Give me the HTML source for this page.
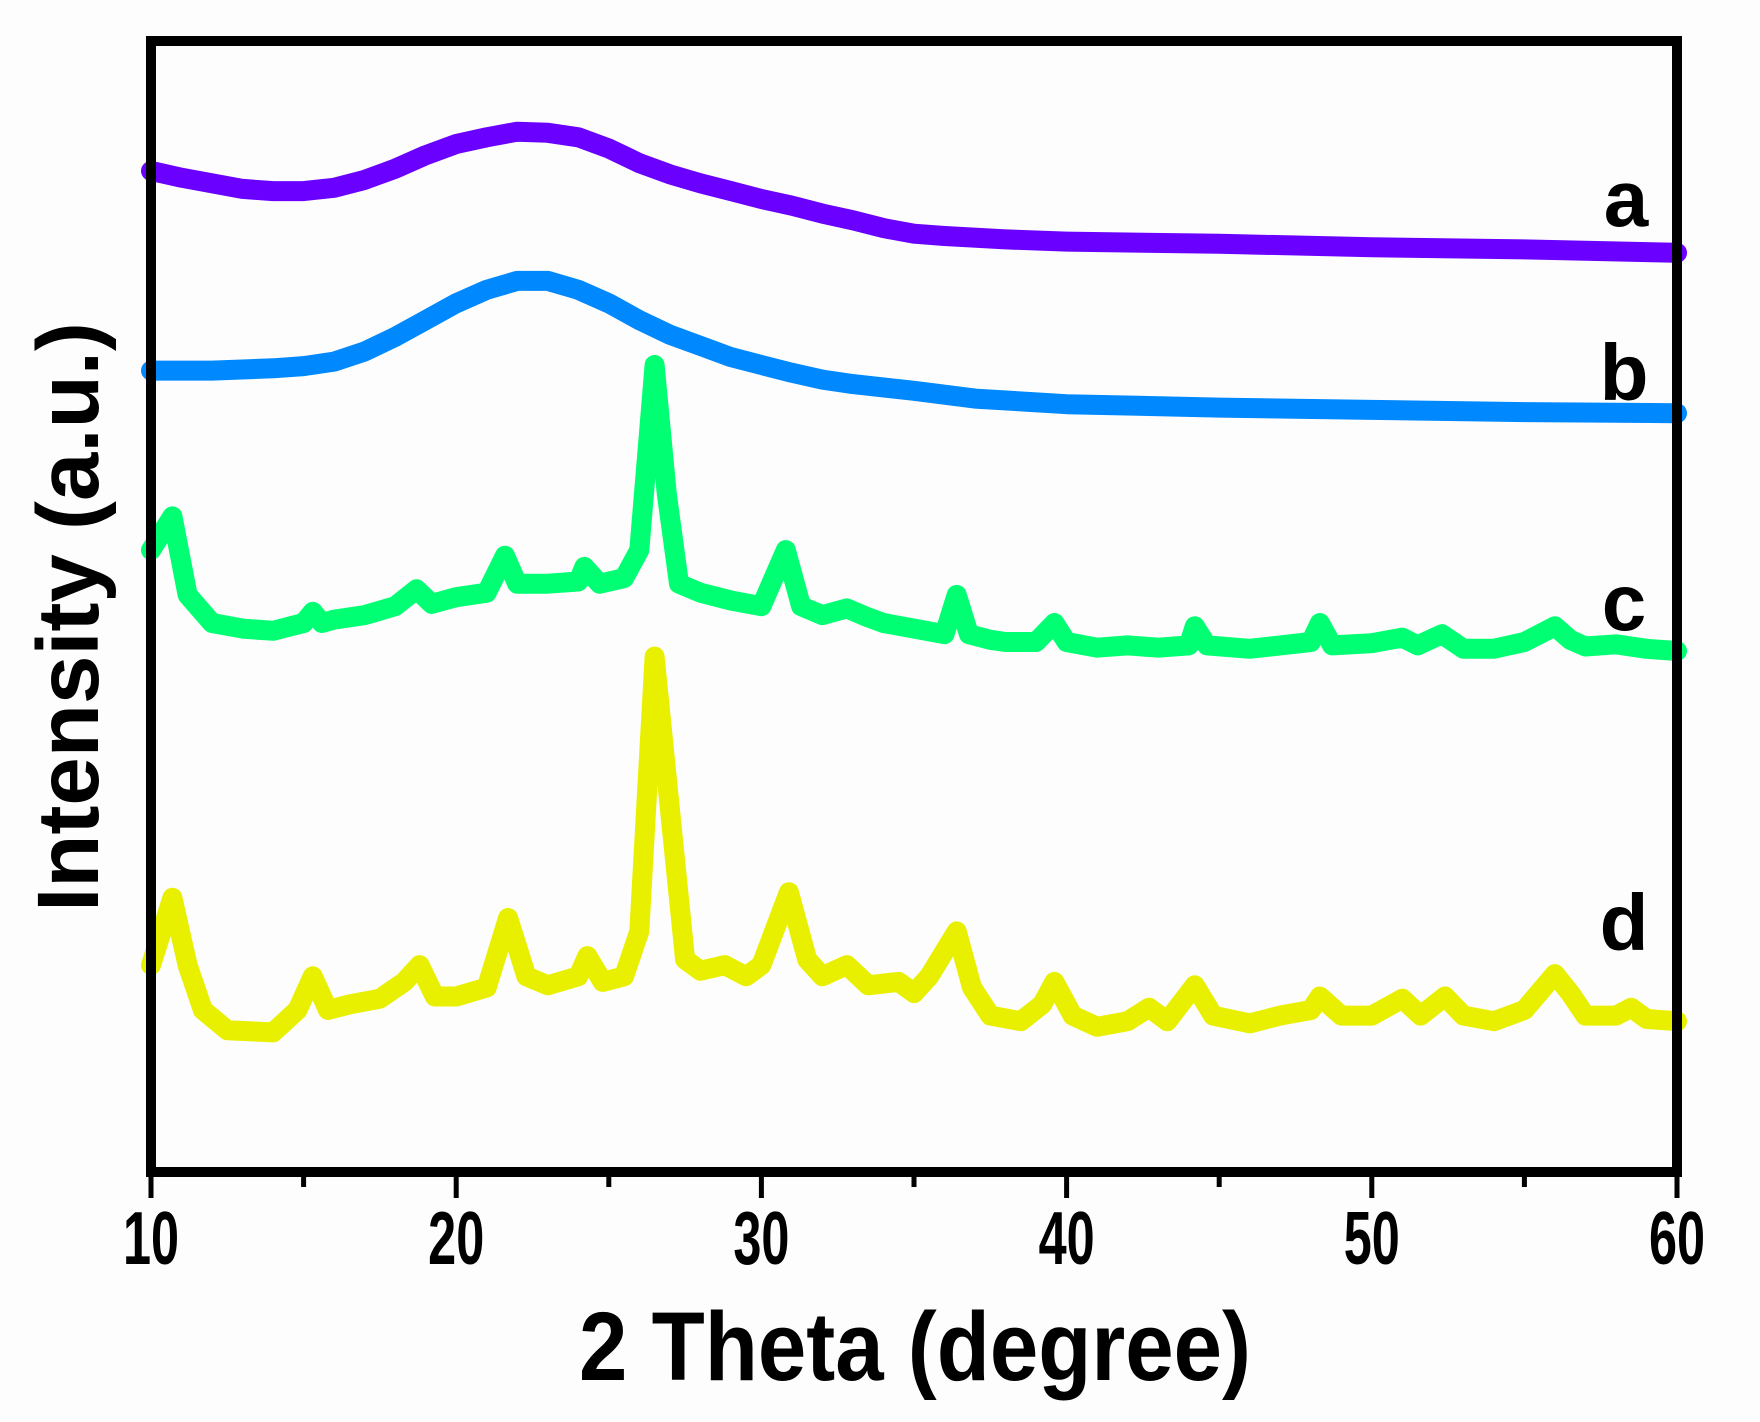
<!DOCTYPE html>
<html><head><meta charset="utf-8"><style>
html,body{margin:0;padding:0;background:#fff;}
svg{display:block;}
text{font-family:"Liberation Sans",Arial,sans-serif;font-weight:bold;fill:#000;}
</style></head><body>
<svg id="chart" width="1760" height="1422" viewBox="0 0 1760 1422">
<rect x="0" y="0" width="1760" height="1422" fill="#fdfdfd"/>
<g id="series"></g>
<rect x="151" y="41" width="1526" height="1131" fill="none" stroke="#000" stroke-width="10"/>
<g id="ticks"></g>
<text transform="translate(915,1380) scale(1.0,1.12)" font-size="87" text-anchor="middle">2 Theta (degree)</text>
<text transform="translate(98,617) rotate(-90)" font-size="87" text-anchor="middle">Intensity (a.u.)</text>
<text x="1626" y="226" font-size="80" text-anchor="middle">a</text>
<text x="1624" y="400" font-size="80" text-anchor="middle">b</text>
<text x="1624" y="630" font-size="80" text-anchor="middle">c</text>
<text x="1624" y="950" font-size="80" text-anchor="middle">d</text>
</svg>
<script>
const xTicks=[10,20,30,40,50,60];
const xMinorTicks=[15,25,35,45,55];
const aX=[10,11,12,13,14,15,16,17,18,19,20,21,22,23,24,25,26,27,28,29,30,31,32,33,34,35,36,38,40,45,50,55,60];
const aY=[888,882,877,872,870,870,873,880,890,902,912,918,923,922,918,908,895,885,877,870,863,857,850,844,837,832,830,827,825,823,820,818,815];
const bX=[10,12,14,15,16,17,18,19,20,21,22,23,24,25,26,27,28,29,30,31,32,33,35,37,40,45,50,55,60];
const bY=[710,710,712,714,718,727,740,755,770,782,790,790,782,770,755,742,732,722,715,708,702,698,692,685,680,677,675,673,672];
const cX=[10,10.7,11.2,12,13,14,15,15.3,15.6,16,17,18,18.7,19.2,20,21,21.6,22,23,24,24.2,24.7,25.5,26,26.5,26.9,27.3,28,29,30,30.8,31.3,32,32.8,33.5,34,35,36,36.4,36.8,37.5,38,39,39.6,40,41,42,43,44,44.2,44.6,46,47,48,48.3,48.7,50,51,51.5,52.3,53,54,55,56,56.5,57,58,59,60];
const cY=[550,580,510,485,480,478,485,495,485,488,492,500,515,502,508,512,545,520,520,522,535,520,525,550,715,600,520,512,505,500,550,500,492,498,490,485,480,475,510,475,470,468,468,485,468,463,465,463,465,482,465,462,465,468,485,465,467,472,465,475,462,462,468,482,470,464,466,462,460];
const dX=[10,10.7,11.2,11.7,12.5,14,14.8,15.3,15.8,16.5,17.5,18.3,18.8,19.3,20,21,21.7,22.3,23,24,24.3,24.8,25.5,26,26.5,27,27.5,28,28.8,29.5,30,30.9,31.5,32,32.8,33.5,34.5,35,35.5,36.4,36.9,37.5,38.5,39.2,39.6,40.2,41,42,42.7,43.3,44.2,44.8,46,47,48,48.3,49,50,51,51.6,52.4,53,54,55,56,56.5,57,58,58.5,59,60];
const dY=[180,240,180,140,122,120,140,170,140,145,150,165,180,152,152,160,222,170,162,170,188,165,170,210,455,320,185,175,180,170,180,245,185,170,180,162,165,155,170,210,160,135,130,145,165,135,125,130,142,130,162,135,128,135,140,152,135,135,150,135,152,135,130,140,172,155,135,135,142,132,130];
const seriesColors=["#6a00ff","#0088ff","#00ff73","#e8f000"];
const seriesNames=["series-a","series-b","series-c","series-d"];

function xScale(d){return 151+(d-10)*30.52;}
function yScale(v){return 1167-v*1.1217;}
const NS="http://www.w3.org/2000/svg";
const sg=document.getElementById('series');
[[aX,aY],[bX,bY],[cX,cY],[dX,dY]].forEach(function(s,i){
  const p=document.createElementNS(NS,'polyline');
  p.setAttribute('points',s[0].map(function(x,j){return xScale(x).toFixed(1)+','+yScale(s[1][j]).toFixed(1);}).join(' '));
  p.setAttribute('fill','none');
  p.setAttribute('stroke',seriesColors[i]);
  p.setAttribute('stroke-width','20');
  p.setAttribute('stroke-linejoin','round');
  p.setAttribute('stroke-linecap','round');
  
  
  sg.appendChild(p);
});
const tg=document.getElementById('ticks');
xTicks.forEach(function(t){
  const l=document.createElementNS(NS,'line');
  l.setAttribute('x1',xScale(t));l.setAttribute('x2',xScale(t));
  l.setAttribute('y1',1172);l.setAttribute('y2',1198);
  l.setAttribute('stroke','#000');l.setAttribute('stroke-width','5');
  
  
  tg.appendChild(l);
  const tx=document.createElementNS(NS,'text');
  tx.setAttribute('transform','translate('+xScale(t)+',1264) scale(0.9,1.35)');
  tx.setAttribute('font-size','56');tx.setAttribute('text-anchor','middle');
  tx.textContent=t;
  
  
  tg.appendChild(tx);
});
xMinorTicks.forEach(function(t){
  const l=document.createElementNS(NS,'line');
  l.setAttribute('x1',xScale(t));l.setAttribute('x2',xScale(t));
  l.setAttribute('y1',1172);l.setAttribute('y2',1187);
  l.setAttribute('stroke','#000');l.setAttribute('stroke-width','5');
  
  
  tg.appendChild(l);
});
</script>
</body></html>
